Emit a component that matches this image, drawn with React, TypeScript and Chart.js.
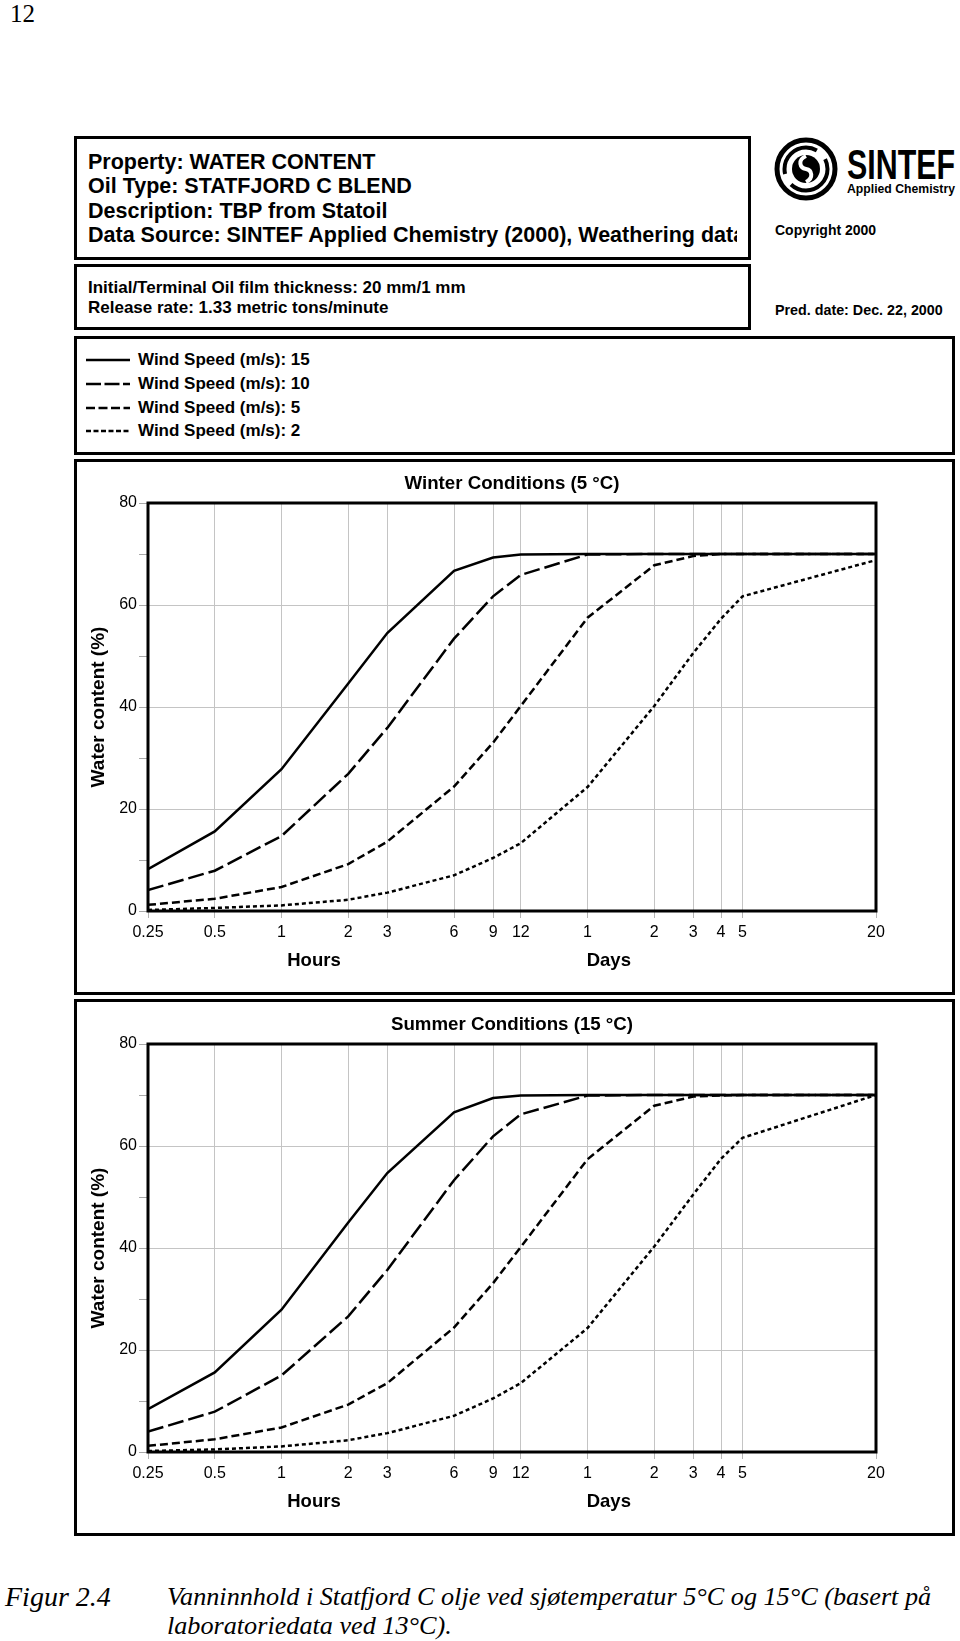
import React, { useEffect, useRef } from 'react';
import { Chart, registerables } from 'chart.js';

Chart.register(...registerables);

const FONT = '"Liberation Sans", Arial, Helvetica, sans-serif';
const SERIF = '"Liberation Serif", "Times New Roman", Times, serif';

// ---------- data ----------
const hours = [0.25, 0.5, 1, 2, 3, 6, 9, 12, 24, 48, 72, 96, 120, 480];
const xTickLabels = ['0.25', '0.5', '1', '2', '3', '6', '9', '12', '1', '2', '3', '4', '5', '20'];
const yTickValues = [0, 20, 40, 60, 80];
const yTickLabels = ['0', '20', '40', '60', '80'];
const axisUnitLabels = ['Hours', 'Days'];
const yTitle = 'Water content (%)';

const windLabels = [
  'Wind Speed (m/s): 15',
  'Wind Speed (m/s): 10',
  'Wind Speed (m/s): 5',
  'Wind Speed (m/s): 2',
];

const winter15 = [8.2, 15.6, 27.8, 44.6, 54.5, 66.7, 69.3, 69.9, 70, 70, 70, 70, 70, 70];
const winter10 = [4.1, 7.9, 14.7, 26.9, 35.9, 53.4, 61.7, 65.9, 69.9, 70, 70, 70, 70, 70];
const winter5 = [1.2, 2.4, 4.7, 9.2, 13.6, 24.4, 33.0, 40.2, 57.5, 67.8, 69.6, 70, 70, 70];
const winter2 = [0.2, 0.6, 1.1, 2.2, 3.6, 7.0, 10.4, 13.3, 24.3, 40.2, 50.6, 57.3, 61.7, 68.8];

const summer15 = [8.4, 15.6, 27.9, 45.0, 54.7, 66.6, 69.4, 69.9, 70, 70, 70, 70, 70, 70];
const summer10 = [4.0, 7.9, 15.0, 26.6, 35.7, 53.3, 61.9, 66.2, 69.9, 70, 70, 70, 70, 70];
const summer5 = [1.2, 2.5, 4.8, 9.3, 13.5, 24.4, 33.1, 40.2, 57.4, 67.9, 69.7, 69.9, 70, 70];
const summer2 = [0.2, 0.5, 1.1, 2.3, 3.7, 7.1, 10.5, 13.5, 24.3, 40.3, 50.5, 57.5, 61.6, 70];

const winterTitle = 'Winter Conditions (5 °C)';
const summerTitle = 'Summer Conditions (15 °C)';

const pageNumber = '12';
const headerLines = [
  'Property: WATER CONTENT',
  'Oil Type: STATFJORD C BLEND',
  'Description: TBP from Statoil',
  'Data Source: SINTEF Applied Chemistry (2000), Weathering data',
];
const infoLines = [
  'Initial/Terminal Oil film thickness: 20 mm/1 mm',
  'Release rate: 1.33 metric tons/minute',
];
const copyrightText = 'Copyright 2000';
const predDateText = 'Pred. date: Dec. 22, 2000';
const logoName = 'SINTEF';
const logoSub = 'Applied Chemistry';
const captionLabel = 'Figur 2.4';
const captionLines = [
  'Vanninnhold i Statfjord C olje ved sjøtemperatur 5°C og 15°C (basert på',
  'laboratoriedata ved 13°C).',
];

// ---------- styles ----------
const plotDashes: number[][] = [[], [16, 5], [8, 4], [4, 3]];
const legendDashes: string[] = ['', '15 3.5', '9 3.5', '5 2.5'];

const decorPlugin = {
  id: 'decor',
  afterDatasetsDraw(chart: any, _args: any, opts: any) {
    const { ctx, chartArea: a } = chart;
    ctx.save();
    ctx.strokeStyle = '#000';
    ctx.lineWidth = 3;
    ctx.strokeRect(a.left, a.top, a.right - a.left, a.bottom - a.top);
    ctx.fillStyle = '#000';
    ctx.textAlign = 'center';
    ctx.textBaseline = 'middle';
    ctx.font = `bold 18.7px ${FONT}`;
    ctx.fillText(opts.title, (a.left + a.right) / 2, 22);
    const w = a.right - a.left;
    ctx.font = `bold 18.5px ${FONT}`;
    ctx.fillText(axisUnitLabels[0], a.left + 0.228 * w, a.bottom + 50);
    ctx.fillText(axisUnitLabels[1], a.left + 0.633 * w, a.bottom + 50);
    ctx.translate(22, (a.top + a.bottom) / 2);
    ctx.rotate(-Math.PI / 2);
    ctx.font = `bold 19px ${FONT}`;
    ctx.fillText(yTitle, 0, 0);
    ctx.restore();
  },
};

function WaterChart({ title, series, top }: { title: string; series: number[][]; top: number }) {
  const ref = useRef<HTMLCanvasElement>(null);
  useEffect(() => {
    if (!ref.current) return;
    const chart = new Chart(ref.current, {
      type: 'line',
      data: {
        datasets: series.map((s, i) => ({
          label: windLabels[i],
          data: hours.map((h, j) => ({ x: h, y: s[j] })),
          borderColor: '#000',
          borderWidth: 2.5,
          borderDash: plotDashes[i],
          pointRadius: 0,
          tension: 0,
          fill: false,
        })),
      },
      options: {
        responsive: false,
        animation: false,
        devicePixelRatio: 1,
        layout: { padding: { top: 41, right: 76, left: 0, bottom: 0 } },
        plugins: {
          legend: { display: false },
          tooltip: { enabled: false },
          title: { display: false },
          decor: { title },
        } as any,
        scales: {
          x: {
            type: 'logarithmic',
            min: hours[0],
            max: hours[hours.length - 1],
            afterBuildTicks: (s: any) => {
              s.ticks = hours.map((v) => ({ value: v }));
            },
            afterFit: (s: any) => {
              s.height = 81;
            },
            ticks: {
              autoSkip: false,
              maxRotation: 0,
              minRotation: 0,
              padding: 5,
              color: '#000',
              font: { family: FONT, size: 16 },
              callback: (_v: any, i: number) => xTickLabels[i],
            },
            grid: { color: '#c4c4c4', tickColor: '#b4b4b4', tickLength: 7, lineWidth: 1 },
            border: { display: false },
          } as any,
          y: {
            min: 0,
            max: 80,
            afterFit: (s: any) => {
              s.width = 71;
            },
            ticks: {
              stepSize: 10,
              padding: 2,
              color: '#000',
              font: { family: FONT, size: 16 },
              callback: (v: any) => {
                const k = yTickValues.indexOf(Number(v));
                return k >= 0 ? yTickLabels[k] : '';
              },
            },
            grid: {
              color: (c: any) =>
                c.tick && c.tick.value > 0 && c.tick.value < 80 && yTickValues.includes(c.tick.value)
                  ? '#c4c4c4'
                  : 'rgba(0,0,0,0)',
              tickColor: '#a8a8a8',
              tickLength: 9,
              lineWidth: 1,
            },
            border: { display: false },
          } as any,
        },
      },
      plugins: [decorPlugin as any],
    });
    return () => chart.destroy();
  }, [title, series]);
  return (
    <canvas
      ref={ref}
      width={875}
      height={530}
      style={{ position: 'absolute', left: 77, top, width: 875, height: 530 }}
    />
  );
}

function Box({ left, top, width, height }: { left: number; top: number; width: number; height: number }) {
  return (
    <div
      style={{
        position: 'absolute',
        left,
        top,
        width,
        height,
        border: '3px solid #000',
        boxSizing: 'border-box',
      }}
    />
  );
}

function Logo() {
  return (
    <svg
      width={190}
      height={75}
      style={{ position: 'absolute', left: 770, top: 132 }}
      viewBox="770 132 190 75"
    >
      <circle cx={806} cy={169} r={29} fill="none" stroke="#000" strokeWidth={5} />
      <circle cx={806} cy={169} r={21.5} fill="none" stroke="#000" strokeWidth={4} strokeDasharray="50 12" />
      <circle cx={806} cy={169} r={14} fill="#000" />
      <path
        d="M806 156 C 797 160, 800 168, 806 169 C 812 170, 814 178, 806 182"
        fill="none"
        stroke="#fff"
        strokeWidth={4}
      />
      <text
        x={847}
        y={179}
        fontFamily={FONT}
        fontWeight="bold"
        fontSize={42}
        textLength={108}
        lengthAdjust="spacingAndGlyphs"
        fill="#000"
      >
        {logoName}
      </text>
      <text
        x={847}
        y={193}
        fontFamily={FONT}
        fontWeight="bold"
        fontSize={13}
        textLength={108}
        lengthAdjust="spacingAndGlyphs"
        fill="#000"
      >
        {logoSub}
      </text>
    </svg>
  );
}

export default function App() {
  const winterSeries = [winter15, winter10, winter5, winter2];
  const summerSeries = [summer15, summer10, summer5, summer2];
  return (
    <div
      style={{
        position: 'absolute',
        left: 0,
        top: 0,
        width: 960,
        height: 1641,
        background: '#fff',
        color: '#000',
        fontFamily: FONT,
        overflow: 'hidden',
      }}
    >
      <div style={{ position: 'absolute', left: 10, top: 0, fontFamily: SERIF, fontSize: 25, lineHeight: '27px' }}>
        {pageNumber}
      </div>

      <Box left={74} top={136} width={677} height={124} />
      <div
        style={{
          position: 'absolute',
          left: 88,
          top: 150,
          width: 649,
          overflow: 'hidden',
          whiteSpace: 'nowrap',
          fontWeight: 'bold',
          fontSize: 21.5,
          lineHeight: '24.3px',
        }}
      >
        {headerLines.map((l) => (
          <div key={l}>{l}</div>
        ))}
      </div>

      <Box left={74} top={264} width={677} height={66} />
      <div
        style={{
          position: 'absolute',
          left: 88,
          top: 278,
          whiteSpace: 'nowrap',
          fontWeight: 'bold',
          fontSize: 17,
          lineHeight: '20px',
        }}
      >
        {infoLines.map((l) => (
          <div key={l}>{l}</div>
        ))}
      </div>

      <Logo />
      <div style={{ position: 'absolute', left: 775, top: 221, fontWeight: 'bold', fontSize: 14, lineHeight: '18px' }}>
        {copyrightText}
      </div>
      <div style={{ position: 'absolute', left: 775, top: 301, fontWeight: 'bold', fontSize: 14.3, lineHeight: '18px', whiteSpace: 'nowrap' }}>
        {predDateText}
      </div>

      <Box left={74} top={336} width={881} height={119} />
      {windLabels.map((l, i) => (
        <div
          key={l}
          style={{
            position: 'absolute',
            left: 86,
            top: 360 + i * 23.8 - 11,
            height: 22,
            display: 'flex',
            alignItems: 'center',
            whiteSpace: 'nowrap',
          }}
        >
          <svg width={44} height={6} style={{ display: 'block' }}>
            <line
              x1={0}
              y1={3}
              x2={44}
              y2={3}
              stroke="#000"
              strokeWidth={2.5}
              strokeDasharray={legendDashes[i] || undefined}
            />
          </svg>
          <span style={{ marginLeft: 8, fontWeight: 'bold', fontSize: 17, lineHeight: '22px' }}>{l}</span>
        </div>
      ))}

      <Box left={74} top={459} width={881} height={536} />
      <WaterChart title={winterTitle} series={winterSeries} top={462} />

      <Box left={74} top={999} width={881} height={537} />
      <WaterChart title={summerTitle} series={summerSeries} top={1003} />

      <div
        style={{
          position: 'absolute',
          left: 5,
          top: 1582,
          fontFamily: SERIF,
          fontStyle: 'italic',
          fontSize: 28,
          lineHeight: '29px',
          whiteSpace: 'nowrap',
        }}
      >
        {captionLabel}
      </div>
      <div
        style={{
          position: 'absolute',
          left: 167,
          top: 1582,
          fontFamily: SERIF,
          fontStyle: 'italic',
          fontSize: 26.2,
          lineHeight: '29px',
          whiteSpace: 'nowrap',
        }}
      >
        {captionLines.map((l) => (
          <div key={l}>{l}</div>
        ))}
      </div>
    </div>
  );
}
